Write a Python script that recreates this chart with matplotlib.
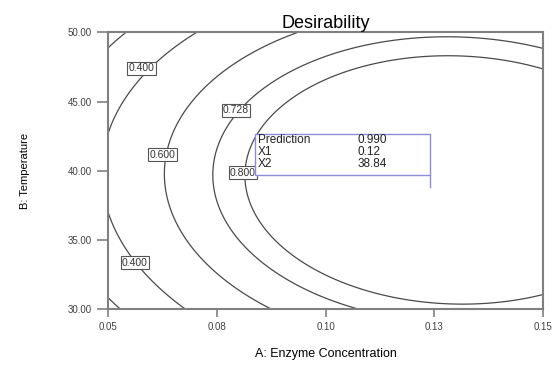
import numpy as np
import matplotlib
matplotlib.use("Agg")
import matplotlib.pyplot as plt
import matplotlib.transforms as mtransforms

plt.rcParams['font.family'] = ['Liberation Sans', 'DejaVu Sans']

# fitted desirability surface in coded units (a = enzyme, b = temperature)
# terms: 1, a, b, ab, a^2, b^2
coef = [0.9352, 0.2788, -0.0254, -0.0177, -0.2347, -0.2729]
x_range = [0.05, 0.15]
y_range = [30.0, 50.0]
levels = [0.2, 0.4, 0.6, 0.728, 0.8]

x_ticks = [0.05, 0.075, 0.10, 0.125, 0.15]
x_ticklabels = ['0.05', '0.08', '0.10', '0.13', '0.15']
y_ticks = [30, 35, 40, 45, 50]
y_ticklabels = ['30.00', '35.00', '40.00', '45.00', '50.00']

# contour label positions (x, y, text)
label_x = [0.0577, 0.0794, 0.0625, 0.0810, 0.0562]
label_y = [47.4, 44.37, 41.17, 39.87, 33.37]
label_txt = ['0.400', '0.728', '0.600', '0.800', '0.400']

# prediction flag
flag_x, flag_y = 0.124, 38.84
flag_names = ['Prediction', 'X1', 'X2']
flag_values = ['0.990', '0.12', '38.84']


def desirability(x, y):
    a = (x - 0.1) / 0.05
    b = (y - 40.0) / 10.0
    return (coef[0] + coef[1]*a + coef[2]*b + coef[3]*a*b
            + coef[4]*a**2 + coef[5]*b**2)


fig = plt.figure(figsize=(5.55, 3.71), dpi=100)
ax = fig.add_axes([0.1946, 0.1663, 0.7838, 0.7466])

xs = np.linspace(x_range[0], x_range[1], 300)
ys = np.linspace(y_range[0], y_range[1], 300)
X, Y = np.meshgrid(xs, ys)
Z = desirability(X, Y)
ax.contour(X, Y, Z, levels=levels, colors='#4a4a4a', linewidths=0.9)

for lx, ly, t in zip(label_x, label_y, label_txt):
    ax.text(lx, ly, t, fontsize=7.5, color='#333333', ha='center', va='center', zorder=5,
            bbox=dict(boxstyle='square,pad=0.12', fc='white', ec='#555555', lw=0.8))

ax.set_xlim(x_range)
ax.set_ylim(y_range)
ax.set_xticks(x_ticks)
ax.set_xticklabels(x_ticklabels)
ax.set_yticks(y_ticks)
ax.set_yticklabels(y_ticklabels)
ax.tick_params(axis='x', direction='out', length=6, width=1.2, color='#808080',
               labelsize=7, labelcolor='#404040', pad=3)
ax.tick_params(axis='y', direction='out', length=8, width=1.2, color='#808080',
               labelsize=7, labelcolor='#404040', pad=3.5)
for s in ax.spines.values():
    s.set_color('#808080')
    s.set_linewidth(1.5)

ax.set_title('Desirability', fontsize=13, pad=3)
ax.set_xlabel('A: Enzyme Concentration', fontsize=9, labelpad=12)
ax.set_ylabel('B: Temperature', fontsize=8, labelpad=27)

# flag drawn in points relative to the prediction point
ftrans = (mtransforms.Affine2D().scale(1 / 72.0) + fig.dpi_scale_trans
          + mtransforms.ScaledTranslation(flag_x, flag_y, ax.transData))
box = plt.Polygon([[0, 8.4], [0, 38.4], [-126, 38.4], [-126, 8.4]], closed=True,
                  fc='white', ec='#8c8cd8', lw=1.0, transform=ftrans, zorder=6)
ax.add_patch(box)
ax.plot([0, 0], [0, 8.4], color='#8c8cd8', lw=1.0, transform=ftrans, zorder=6)
row_y = [34.0, 25.0, 16.3]
for name, val, ry in zip(flag_names, flag_values, row_y):
    ax.text(-124, ry, name, fontsize=8.5, color='#222222', va='center', ha='left',
            transform=ftrans, zorder=7)
    ax.text(-52, ry, val, fontsize=8.5, color='#222222', va='center', ha='left',
            transform=ftrans, zorder=7)

fig.savefig('out.png', dpi=100)
